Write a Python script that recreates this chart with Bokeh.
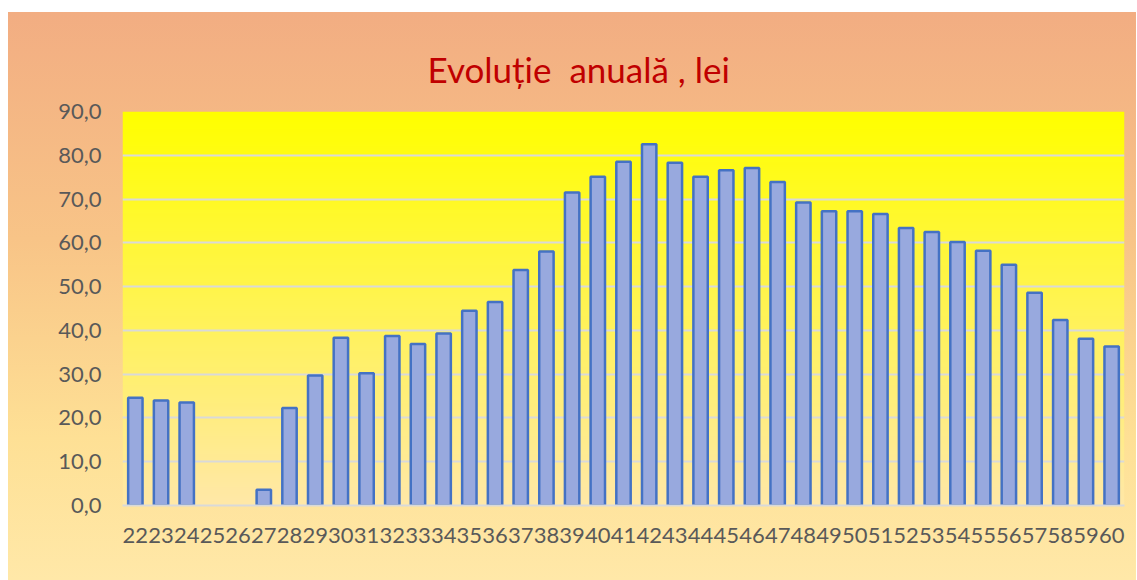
import numpy as np
from bokeh.plotting import figure
from bokeh.models import FixedTicker, Range1d, Title, ColumnDataSource
from bokeh.embed import file_html
from bokeh.resources import INLINE

categories = [str(v) for v in range(22, 61)]
values = [24.6, 24.0, 23.5, 0.0, 0.0, 3.6, 22.3, 29.7, 38.3, 30.2,
          38.7, 36.9, 39.3, 44.5, 46.5, 53.8, 58.0, 71.5, 75.1, 78.5,
          82.5, 78.3, 75.1, 76.6, 77.1, 73.9, 69.2, 67.2, 67.2, 66.6,
          63.4, 62.5, 60.2, 58.2, 55.0, 48.6, 42.4, 38.1, 36.3]
y_ticks = [0, 10, 20, 30, 40, 50, 60, 70, 80, 90]
title_text = "Evoluție\u00a0 anuală , lei"

idx = list(range(len(categories)))

p = figure(width=1128, height=568, output_backend="svg", toolbar_location=None,
           x_range=Range1d(-0.5, len(categories) - 0.5), y_range=Range1d(0, 90),
           min_border_left=114, min_border_right=12, min_border_top=99, min_border_bottom=75,
           margin=(12, 0, 0, 8),
           styles={"background": "linear-gradient(#F2AD82 0%, #F8C487 40%, #FEE095 75%, #FFE8A8 100%)"})
p.border_fill_alpha = 0
p.background_fill_alpha = 0
p.outline_line_color = None

# plot-area gradient background
n = 200
t = np.linspace(0, 1, n)[:, None]  # 0 bottom -> 1 top
r = np.full((n, 1), 255, dtype=np.uint32)
g = (232 + (255 - 232) * t).astype(np.uint32)
b = np.clip((168 * (1 - t)), 0, 255).astype(np.uint32)
img = (255 << 24) | (b << 16) | (g << 8) | r
p.image_rgba(image=[img.astype(np.uint32)], x=-0.5, y=0, dw=len(categories), dh=90, level="image")

src = ColumnDataSource(dict(x=idx, top=values,
                            la=[1.0 if v > 0 else 0.0 for v in values]))
p.vbar(x="x", top="top", width=0.56, source=src, fill_color="#98A9DE",
       line_color="#4472C4", line_width=2.5, line_alpha="la")

p.title = Title(text=title_text, align="left", offset=305, text_font="Lato",
                text_font_size="35px", text_color="#C00000", text_font_style="normal",
                vertical_align="top", standoff=40, text_line_height=1.6)

p.xgrid.grid_line_color = None
p.ygrid.grid_line_color = "#D9D9D9"
p.ygrid.grid_line_width = 2
p.ygrid.ticker = FixedTicker(ticks=y_ticks)

ya = p.yaxis[0]
ya.ticker = FixedTicker(ticks=y_ticks)
ya.major_label_overrides = {v: f"{v:.1f}".replace(".", ",") for v in y_ticks}
ya.axis_line_color = None
ya.major_tick_line_color = None
ya.minor_tick_line_color = None
ya.major_label_standoff = 15
ya.major_label_text_font = "Lato"
ya.major_label_text_font_size = "22px"
ya.major_label_text_color = "#595959"

xa = p.xaxis[0]
xa.ticker = FixedTicker(ticks=idx)
xa.major_label_overrides = {i: c for i, c in zip(idx, categories)}
xa.axis_line_color = "#D9D9D9"
xa.axis_line_width = 2
xa.major_tick_line_color = None
xa.minor_tick_line_color = None
xa.major_label_standoff = 16
xa.major_label_text_font = "Lato"
xa.major_label_text_font_size = "22px"
xa.major_label_text_color = "#595959"

open("out.html", "w").write(file_html(p, INLINE))
